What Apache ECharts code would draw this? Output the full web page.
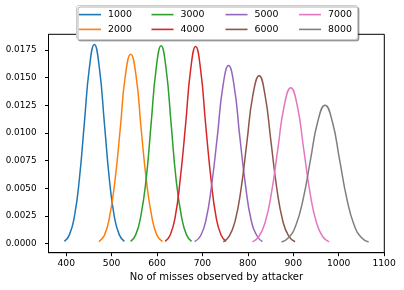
<!DOCTYPE html>
<html>
<head>
<meta charset="utf-8">
<script src="https://cdn.jsdelivr.net/npm/echarts@6/dist/echarts.min.js"></script>
<style>
html,body{margin:0;padding:0;background:#fff;}
#chart{width:404px;height:290px;}
</style>
</head>
<body>
<div id="chart"></div>
<script>
// ---- data ----
const seriesNames = ['1000', '2000', '3000', '4000', '5000', '6000', '7000', '8000'];
const colors = ['#1f77b4', '#ff7f0e', '#2ca02c', '#d62728', '#9467bd', '#8c564b', '#e377c2', '#7f7f7f'];

const x1000 = [396, 407, 418, 429, 440, 451, 462, 473, 484, 495, 506, 517, 528];
const y1000 = [0.00020, 0.00079, 0.00244, 0.00584, 0.01092, 0.01589, 0.01800, 0.01589, 0.01092, 0.00584, 0.00244, 0.00079, 0.00020];
const x2000 = [472, 484, 495, 507, 519, 530, 542, 554, 565, 577, 589, 600, 612];
const y2000 = [0.00019, 0.00075, 0.00232, 0.00556, 0.01038, 0.01511, 0.01712, 0.01511, 0.01038, 0.00556, 0.00232, 0.00075, 0.00019];
const x3000 = [542, 553, 564, 576, 587, 598, 609, 620, 631, 642, 654, 665, 676];
const y3000 = [0.00020, 0.00079, 0.00242, 0.00581, 0.01085, 0.01579, 0.01789, 0.01579, 0.01085, 0.00581, 0.00242, 0.00079, 0.00020];
const x4000 = [618, 629, 640, 651, 663, 674, 685, 696, 707, 719, 730, 741, 752];
const y4000 = [0.00020, 0.00078, 0.00241, 0.00578, 0.01080, 0.01572, 0.01781, 0.01572, 0.01080, 0.00578, 0.00241, 0.00078, 0.00020];
const x5000 = [683, 696, 708, 720, 733, 745, 757.5, 770, 782, 795, 807, 820, 832];
const y5000 = [0.00018, 0.00071, 0.00218, 0.00522, 0.00976, 0.01420, 0.01609, 0.01420, 0.00976, 0.00522, 0.00218, 0.00071, 0.00018];
const x6000 = [746, 759, 772, 785, 798, 811, 825, 838, 851, 864, 877, 890, 904];
const y6000 = [0.00017, 0.00067, 0.00205, 0.00493, 0.00920, 0.01339, 0.01517, 0.01339, 0.00920, 0.00493, 0.00205, 0.00067, 0.00017];
const x7000 = [810, 824, 838, 852, 866, 880, 894.5, 909, 923, 937, 951, 965, 979];
const y7000 = [0.00016, 0.00062, 0.00191, 0.00458, 0.00855, 0.01244, 0.01410, 0.01244, 0.00855, 0.00458, 0.00191, 0.00062, 0.00016];
const x8000 = [874, 890, 906, 922, 938, 954, 970, 986, 1002, 1018, 1034, 1050, 1066];
const y8000 = [0.00014, 0.00055, 0.00169, 0.00406, 0.00759, 0.01104, 0.01251, 0.01104, 0.00759, 0.00406, 0.00169, 0.00055, 0.00014];

const xTicks = [400, 500, 600, 700, 800, 900, 1000, 1100];
const yTicks = [0, 0.0025, 0.005, 0.0075, 0.01, 0.0125, 0.015, 0.0175];
const xAxisTitle = 'No of misses observed by attacker';

// ---- chart ----
const xsList = [x1000, x2000, x3000, x4000, x5000, x6000, x7000, x8000];
const ysList = [y1000, y2000, y3000, y4000, y5000, y6000, y7000, y8000];
const FONT = 'DejaVu Sans';

const series = seriesNames.map((name, i) => ({
  name: name,
  type: 'line',
  data: xsList[i].map((x, j) => [x, ysList[i][j]]),
  smooth: 0.5,
  showSymbol: false,
  symbol: 'none',
  lineStyle: { color: colors[i], width: 1.5 },
  itemStyle: { color: colors[i] },
  z: 2
}));

const colLefts = [79, 151.5, 225.5, 299];
const legends = [0, 1, 2, 3].map(c => ({
  orient: 'vertical',
  left: colLefts[c],
  top: 7.2,
  padding: 0,
  itemGap: 0,
  itemWidth: 22,
  itemHeight: 1.6,
  icon: 'rect',
  selectedMode: false,
  z: 60,
  data: [seriesNames[c * 2], seriesNames[c * 2 + 1]],
  textStyle: { fontFamily: FONT, fontSize: 9.4, color: '#000', lineHeight: 14.8, padding: [0, 0, 0, 2] }
}));

const chart = echarts.init(document.getElementById('chart'), null, { renderer: 'canvas' });
chart.setOption({
  animation: false,
  backgroundColor: '#fff',
  color: colors,
  grid: {
    left: 48.5, right: 19.7, top: 34.3, bottom: 37.3,
    containLabel: false,
    outerBoundsMode: 'none',
    show: true, borderColor: '#000', borderWidth: 1, backgroundColor: 'transparent'
  },
  legend: legends,
  graphic: [{
    type: 'rect',
    z: 50,
    shape: { x: 76.5, y: 5.5, width: 281, height: 34, r: 2.5 },
    style: {
      fill: '#ffffff', stroke: '#cccccc', lineWidth: 1,
      shadowColor: 'rgba(0,0,0,0.3)', shadowOffsetX: 1.5, shadowOffsetY: 1.5, shadowBlur: 0
    }
  }],
  xAxis: {
    type: 'value',
    min: 361, max: 1100.5,
    name: xAxisTitle,
    nameLocation: 'middle',
    nameGap: 18.5,
    nameTextStyle: { fontFamily: FONT, fontSize: 10, color: '#000' },
    axisLine: { show: true, onZero: false, lineStyle: { color: '#000', width: 1 } },
    axisTick: { show: true, inside: false, length: 3.5, customValues: xTicks, lineStyle: { color: '#000', width: 1 } },
    axisLabel: { customValues: xTicks, margin: 6, fontFamily: FONT, fontSize: 9.2, color: '#000', formatter: v => String(v) },
    splitLine: { show: false }
  },
  yAxis: {
    type: 'value',
    min: -0.00082, max: 0.01892,
    axisLine: { show: true, onZero: false, lineStyle: { color: '#000', width: 1 } },
    axisTick: { show: true, inside: false, length: 3.5, customValues: yTicks, lineStyle: { color: '#000', width: 1 } },
    axisLabel: { customValues: yTicks, margin: 12, fontFamily: FONT, fontSize: 8.8, color: '#000', formatter: v => v.toFixed(4) },
    splitLine: { show: false }
  },
  series: series
});
</script>
</body>
</html>
